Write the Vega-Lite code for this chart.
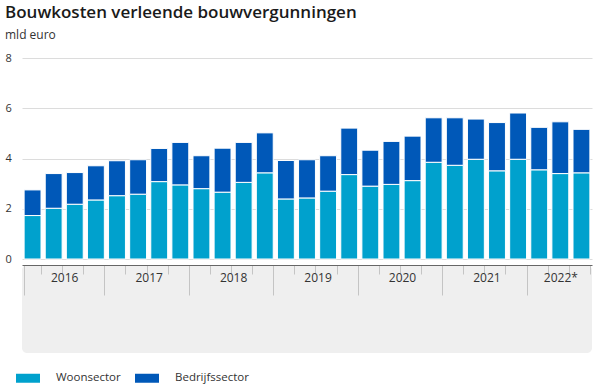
{
  "$schema": "https://vega.github.io/schema/vega-lite/v6.json",
  "padding": {"left": 5, "top": 4, "right": 6, "bottom": 0},
  "background": "white",
  "title": {
    "text": "Bouwkosten verleende bouwvergunningen",
    "subtitle": "mld euro",
    "anchor": "start",
    "frame": "bounds",
    "font": "Open Sans",
    "fontSize": 17,
    "fontWeight": 600,
    "color": "#1a1a1a",
    "subtitleFont": "Open Sans",
    "subtitleFontSize": 12,
    "subtitleColor": "#333333",
    "subtitlePadding": 8,
    "offset": 10
  },
  "data": {
    "values": [
      {"kwartaal": "2016-Q1", "sector": "Woonsector", "waarde": 1.73},
      {"kwartaal": "2016-Q1", "sector": "Bedrijfssector", "waarde": 1.02},
      {"kwartaal": "2016-Q2", "sector": "Woonsector", "waarde": 2.02},
      {"kwartaal": "2016-Q2", "sector": "Bedrijfssector", "waarde": 1.38},
      {"kwartaal": "2016-Q3", "sector": "Woonsector", "waarde": 2.18},
      {"kwartaal": "2016-Q3", "sector": "Bedrijfssector", "waarde": 1.26},
      {"kwartaal": "2016-Q4", "sector": "Woonsector", "waarde": 2.35},
      {"kwartaal": "2016-Q4", "sector": "Bedrijfssector", "waarde": 1.36},
      {"kwartaal": "2017-Q1", "sector": "Woonsector", "waarde": 2.52},
      {"kwartaal": "2017-Q1", "sector": "Bedrijfssector", "waarde": 1.39},
      {"kwartaal": "2017-Q2", "sector": "Woonsector", "waarde": 2.58},
      {"kwartaal": "2017-Q2", "sector": "Bedrijfssector", "waarde": 1.37},
      {"kwartaal": "2017-Q3", "sector": "Woonsector", "waarde": 3.08},
      {"kwartaal": "2017-Q3", "sector": "Bedrijfssector", "waarde": 1.32},
      {"kwartaal": "2017-Q4", "sector": "Woonsector", "waarde": 2.95},
      {"kwartaal": "2017-Q4", "sector": "Bedrijfssector", "waarde": 1.69},
      {"kwartaal": "2018-Q1", "sector": "Woonsector", "waarde": 2.80},
      {"kwartaal": "2018-Q1", "sector": "Bedrijfssector", "waarde": 1.31},
      {"kwartaal": "2018-Q2", "sector": "Woonsector", "waarde": 2.66},
      {"kwartaal": "2018-Q2", "sector": "Bedrijfssector", "waarde": 1.75},
      {"kwartaal": "2018-Q3", "sector": "Woonsector", "waarde": 3.05},
      {"kwartaal": "2018-Q3", "sector": "Bedrijfssector", "waarde": 1.59},
      {"kwartaal": "2018-Q4", "sector": "Woonsector", "waarde": 3.43},
      {"kwartaal": "2018-Q4", "sector": "Bedrijfssector", "waarde": 1.59},
      {"kwartaal": "2019-Q1", "sector": "Woonsector", "waarde": 2.39},
      {"kwartaal": "2019-Q1", "sector": "Bedrijfssector", "waarde": 1.53},
      {"kwartaal": "2019-Q2", "sector": "Woonsector", "waarde": 2.43},
      {"kwartaal": "2019-Q2", "sector": "Bedrijfssector", "waarde": 1.52},
      {"kwartaal": "2019-Q3", "sector": "Woonsector", "waarde": 2.70},
      {"kwartaal": "2019-Q3", "sector": "Bedrijfssector", "waarde": 1.41},
      {"kwartaal": "2019-Q4", "sector": "Woonsector", "waarde": 3.36},
      {"kwartaal": "2019-Q4", "sector": "Bedrijfssector", "waarde": 1.85},
      {"kwartaal": "2020-Q1", "sector": "Woonsector", "waarde": 2.90},
      {"kwartaal": "2020-Q1", "sector": "Bedrijfssector", "waarde": 1.43},
      {"kwartaal": "2020-Q2", "sector": "Woonsector", "waarde": 2.97},
      {"kwartaal": "2020-Q2", "sector": "Bedrijfssector", "waarde": 1.71},
      {"kwartaal": "2020-Q3", "sector": "Woonsector", "waarde": 3.12},
      {"kwartaal": "2020-Q3", "sector": "Bedrijfssector", "waarde": 1.77},
      {"kwartaal": "2020-Q4", "sector": "Woonsector", "waarde": 3.85},
      {"kwartaal": "2020-Q4", "sector": "Bedrijfssector", "waarde": 1.77},
      {"kwartaal": "2021-Q1", "sector": "Woonsector", "waarde": 3.73},
      {"kwartaal": "2021-Q1", "sector": "Bedrijfssector", "waarde": 1.89},
      {"kwartaal": "2021-Q2", "sector": "Woonsector", "waarde": 3.97},
      {"kwartaal": "2021-Q2", "sector": "Bedrijfssector", "waarde": 1.60},
      {"kwartaal": "2021-Q3", "sector": "Woonsector", "waarde": 3.51},
      {"kwartaal": "2021-Q3", "sector": "Bedrijfssector", "waarde": 1.92},
      {"kwartaal": "2021-Q4", "sector": "Woonsector", "waarde": 3.97},
      {"kwartaal": "2021-Q4", "sector": "Bedrijfssector", "waarde": 1.84},
      {"kwartaal": "2022-Q1", "sector": "Woonsector", "waarde": 3.55},
      {"kwartaal": "2022-Q1", "sector": "Bedrijfssector", "waarde": 1.69},
      {"kwartaal": "2022-Q2", "sector": "Woonsector", "waarde": 3.40},
      {"kwartaal": "2022-Q2", "sector": "Bedrijfssector", "waarde": 2.06},
      {"kwartaal": "2022-Q3", "sector": "Woonsector", "waarde": 3.43},
      {"kwartaal": "2022-Q3", "sector": "Bedrijfssector", "waarde": 1.73}
    ]
  },
  "spacing": 0,
  "resolve": {"scale": {"x": "shared"}},
  "vconcat": [
    {
      "width": 570,
      "height": 201,
      "mark": {"type": "bar", "stroke": "white", "strokeWidth": 1},
      "encoding": {
        "x": {
          "field": "kwartaal",
          "type": "ordinal",
          "scale": {"paddingInner": 0.2, "paddingOuter": 0.1},
          "axis": null
        },
        "y": {
          "field": "waarde",
          "type": "quantitative",
          "stack": "zero",
          "scale": {"domain": [0, 8], "nice": false},
          "axis": {
            "values": [0, 2, 4, 6, 8],
            "title": null,
            "domain": false,
            "ticks": false,
            "labelAlign": "left",
            "labelPadding": 17,
            "labelFont": "Open Sans",
            "labelFontSize": 11,
            "labelColor": "#333333",
            "gridColor": "#dcdcdc"
          }
        },
        "color": {
          "field": "sector",
          "type": "nominal",
          "scale": {"domain": ["Woonsector", "Bedrijfssector"], "range": ["#00a1cd", "#0058b8"]},
          "legend": {
            "title": null,
            "orient": "bottom",
            "offset": 19,
            "direction": "horizontal",
            "symbolType": "M-2,-0.75H2V0.75H-2Z",
            "symbolSize": 144,
            "symbolStrokeWidth": 0,
            "labelFont": "Open Sans",
            "labelFontSize": 11.5,
            "labelColor": "#333333",
            "labelOffset": 22,
            "columnPadding": 14
          }
        },
        "order": {"field": "sector", "sort": "descending"}
      }
    },
    {
      "width": 570,
      "height": 88,
      "view": {"fill": "#efefef", "stroke": null, "cornerRadius": 5},
      "mark": {"type": "tick", "opacity": 0},
      "encoding": {
        "x": {
          "field": "kwartaal",
          "type": "ordinal",
          "scale": {"paddingInner": 0.2, "paddingOuter": 0.1},
          "axis": {
            "orient": "bottom",
            "offset": -88,
            "title": null,
            "tickBand": "extent",
            "domainColor": "#666666",
            "tickColor": "#c4c4c4",
            "tickSize": {"condition": {"test": "!isString(datum.value) || indexof(datum.value, 'Q4') >= 0", "value": 30}, "value": 9},
            "labelExpr": "datum.value == '2022-Q2' ? '2022*' : (isString(datum.value) && indexof(datum.value, 'Q3') >= 0 && indexof(datum.value, '2022') < 0 ? slice(datum.value, 0, 4) : '')",
            "labelOffset": {"condition": {"test": "datum.value == '2022-Q2'", "value": 0}, "value": -10.56},
            "labelAngle": 0,
            "labelPadding": -2,
            "labelFont": "Open Sans",
            "labelFontSize": 12,
            "labelColor": "#333333",
            "labelOverlap": false,
            "labelBound": false
          }
        }
      }
    }
  ],
  "config": {"view": {"stroke": null}, "font": "Open Sans"}
}
